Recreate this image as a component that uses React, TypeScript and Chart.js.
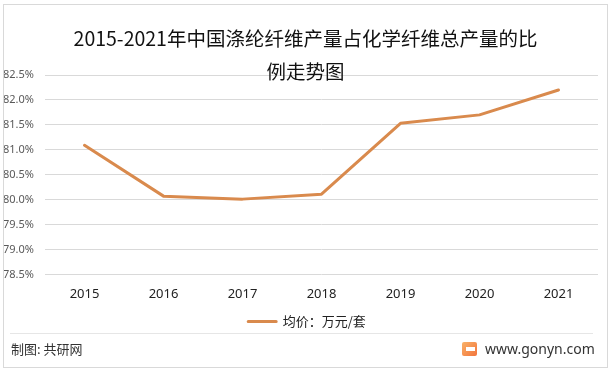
import React, { useEffect, useRef } from "react";
import { Chart, registerables } from "chart.js";

Chart.register(...registerables);

const TITLE_LINES = ["2015-2021年中国涤纶纤维产量占化学纤维总产量的比", "例走势图"];
const YEARS = ["2015", "2016", "2017", "2018", "2019", "2020", "2021"];
const SHARE = [81.09, 80.07, 80.01, 80.11, 81.53, 81.7, 82.2];
const SERIES_LABEL = "均价：万元/套";
const Y_MIN = 78.5;
const Y_MAX = 82.5;
const Y_STEP = 0.5;
const SOURCE_TEXT = "制图: 共研网";
const SITE_TEXT = "www.gonyn.com";

const LINE_COLOR = "#D98A4D";
const CJK = '"Noto Sans CJK SC", "Noto Sans", sans-serif';

const shiftBlocks = {
  id: "shiftBlocks",
  afterLayout(chart: any) {
    if (chart.titleBlock) chart.titleBlock.left = 13;
    if (chart.legend) chart.legend.left = 16;
  },
};

export default function App() {
  const canvasRef = useRef<HTMLCanvasElement | null>(null);

  useEffect(() => {
    const canvas = canvasRef.current;
    if (!canvas) return;
    const chart = new Chart(canvas, {
      type: "line",
      data: {
        labels: YEARS,
        datasets: [
          {
            label: SERIES_LABEL,
            data: SHARE,
            borderColor: LINE_COLOR,
            backgroundColor: LINE_COLOR,
            borderWidth: 3,
            pointRadius: 0,
            pointHoverRadius: 0,
            tension: 0,
            borderCapStyle: "round",
            borderJoinStyle: "round",
          },
        ],
      },
      plugins: [shiftBlocks],
      options: {
        responsive: false,
        animation: false,
        devicePixelRatio: 1,
        layout: { padding: { top: 0, left: 0, right: 16, bottom: 33 } },
        plugins: {
          title: {
            display: true,
            text: TITLE_LINES,
            color: "#111",
            font: { family: CJK, size: 19.5, weight: "normal", lineHeight: 33 / 19.5 },
            padding: { top: 22, bottom: -13 },
          },
          legend: {
            display: true,
            position: "bottom",
            labels: {
              boxWidth: 28,
              boxHeight: 0,
              padding: 1,
              color: "#222",
              font: { family: CJK, size: 13 },
            },
          },
          tooltip: { enabled: false },
        },
        scales: {
          x: {
            offset: true,
            grid: { display: false, drawTicks: false, offset: true },
            border: { display: false },
            ticks: {
              color: "#222",
              padding: 12,
              maxRotation: 0,
              font: { family: '"Noto Sans", sans-serif', size: 13 },
            },
          },
          y: {
            min: Y_MIN,
            max: Y_MAX,
            grid: { color: "#d9d9d9", lineWidth: 1, drawTicks: false },
            border: { display: false },
            afterFit: (scale: any) => {
              scale.width = 45;
            },
            ticks: {
              stepSize: Y_STEP,
              padding: 11,
              color: "#595959",
              font: { family: '"Noto Sans", sans-serif', size: 11 },
              callback: (v: any) => Number(v).toFixed(1) + "%",
            },
          },
        },
      },
    });
    return () => chart.destroy();
  }, []);

  return (
    <div
      style={{
        position: "absolute",
        left: 0,
        top: 0,
        width: 614,
        height: 371,
        background: "#fff",
        overflow: "hidden",
      }}
    >
      <canvas ref={canvasRef} width={614} height={371} style={{ position: "absolute", left: 0, top: 0 }} />
      <div
        style={{
          position: "absolute",
          left: 3,
          top: 4,
          width: 605,
          height: 364,
          boxSizing: "border-box",
          border: "1px solid #d9d9d9",
          pointerEvents: "none",
        }}
      />
      <div style={{ position: "absolute", left: 10, top: 333, width: 583, height: 1, background: "#e6e6e6" }} />
      <div
        style={{
          position: "absolute",
          left: 11,
          top: 340,
          fontFamily: CJK,
          fontSize: 13,
          lineHeight: "18px",
          color: "#333",
          whiteSpace: "nowrap",
        }}
      >
        {SOURCE_TEXT}
      </div>
      <div
        style={{
          position: "absolute",
          left: 462,
          top: 342,
          width: 15,
          height: 14,
          borderRadius: 2,
          background: "linear-gradient(135deg, #f9b268 0%, #f2743c 100%)",
        }}
      >
        <div style={{ position: "absolute", left: 4, top: 5, width: 9, height: 4, background: "#fff" }} />
      </div>
      <div
        style={{
          position: "absolute",
          left: 485,
          top: 339,
          fontFamily: '"Noto Sans", sans-serif',
          fontSize: 14,
          lineHeight: "20px",
          color: "#333",
          whiteSpace: "nowrap",
        }}
      >
        {SITE_TEXT}
      </div>
    </div>
  );
}
